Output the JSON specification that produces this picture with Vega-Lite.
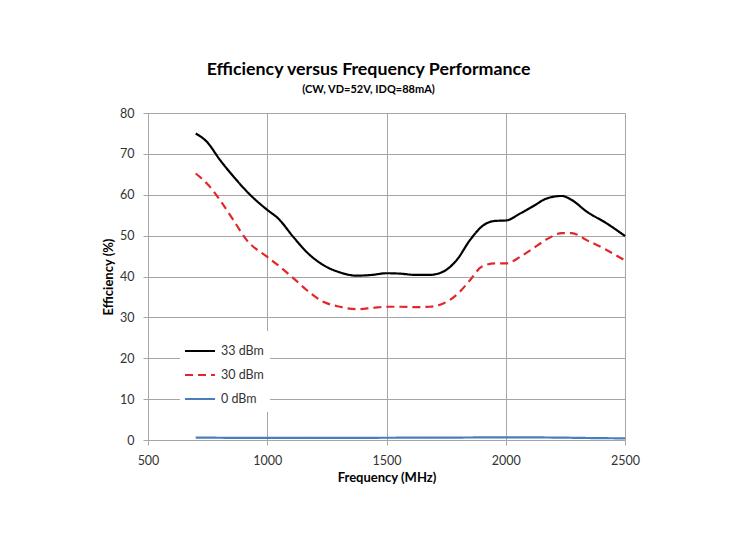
{
  "$schema": "https://vega.github.io/schema/vega-lite/v6.json",
  "width": 477,
  "height": 327,
  "autosize": {"type": "none"},
  "padding": {"left": 148, "top": 113, "right": 105, "bottom": 99},
  "background": "white",
  "title": {
    "text": "Efficiency versus Frequency Performance",
    "subtitle": "(CW, VD=52V, IDQ=88mA)",
    "anchor": "middle",
    "dx": -18,
    "offset": 12,
    "font": "Lato",
    "fontSize": 17.8,
    "fontWeight": "bold",
    "color": "#000000",
    "subtitleFont": "Lato",
    "subtitleFontSize": 11,
    "subtitleFontWeight": "bold",
    "subtitleColor": "#000000",
    "subtitlePadding": 5
  },
  "data": {
    "values": [
      {"f": 700, "e": 75.0, "s": "33 dBm"},
      {"f": 746, "e": 73.0, "s": "33 dBm"},
      {"f": 802, "e": 68.5, "s": "33 dBm"},
      {"f": 865, "e": 64.0, "s": "33 dBm"},
      {"f": 928, "e": 60.0, "s": "33 dBm"},
      {"f": 1000, "e": 56.3, "s": "33 dBm"},
      {"f": 1046, "e": 54.2, "s": "33 dBm"},
      {"f": 1109, "e": 49.7, "s": "33 dBm"},
      {"f": 1165, "e": 46.0, "s": "33 dBm"},
      {"f": 1235, "e": 42.8, "s": "33 dBm"},
      {"f": 1305, "e": 41.0, "s": "33 dBm"},
      {"f": 1375, "e": 40.2, "s": "33 dBm"},
      {"f": 1440, "e": 40.4, "s": "33 dBm"},
      {"f": 1500, "e": 40.8, "s": "33 dBm"},
      {"f": 1557, "e": 40.7, "s": "33 dBm"},
      {"f": 1620, "e": 40.4, "s": "33 dBm"},
      {"f": 1682, "e": 40.4, "s": "33 dBm"},
      {"f": 1738, "e": 41.2, "s": "33 dBm"},
      {"f": 1794, "e": 44.0, "s": "33 dBm"},
      {"f": 1850, "e": 48.9, "s": "33 dBm"},
      {"f": 1899, "e": 52.2, "s": "33 dBm"},
      {"f": 1955, "e": 53.6, "s": "33 dBm"},
      {"f": 2001, "e": 53.7, "s": "33 dBm"},
      {"f": 2060, "e": 55.4, "s": "33 dBm"},
      {"f": 2115, "e": 57.2, "s": "33 dBm"},
      {"f": 2172, "e": 59.1, "s": "33 dBm"},
      {"f": 2235, "e": 59.7, "s": "33 dBm"},
      {"f": 2277, "e": 58.7, "s": "33 dBm"},
      {"f": 2339, "e": 55.9, "s": "33 dBm"},
      {"f": 2423, "e": 53.0, "s": "33 dBm"},
      {"f": 2500, "e": 49.9, "s": "33 dBm"},
      {"f": 700, "e": 65.2, "s": "30 dBm"},
      {"f": 753, "e": 62.4, "s": "30 dBm"},
      {"f": 802, "e": 58.7, "s": "30 dBm"},
      {"f": 858, "e": 53.8, "s": "30 dBm"},
      {"f": 914, "e": 48.9, "s": "30 dBm"},
      {"f": 1000, "e": 44.8, "s": "30 dBm"},
      {"f": 1053, "e": 42.4, "s": "30 dBm"},
      {"f": 1109, "e": 39.6, "s": "30 dBm"},
      {"f": 1165, "e": 36.7, "s": "30 dBm"},
      {"f": 1235, "e": 33.8, "s": "30 dBm"},
      {"f": 1305, "e": 32.6, "s": "30 dBm"},
      {"f": 1375, "e": 32.0, "s": "30 dBm"},
      {"f": 1440, "e": 32.3, "s": "30 dBm"},
      {"f": 1500, "e": 32.6, "s": "30 dBm"},
      {"f": 1557, "e": 32.6, "s": "30 dBm"},
      {"f": 1620, "e": 32.5, "s": "30 dBm"},
      {"f": 1682, "e": 32.6, "s": "30 dBm"},
      {"f": 1738, "e": 33.4, "s": "30 dBm"},
      {"f": 1801, "e": 35.9, "s": "30 dBm"},
      {"f": 1850, "e": 39.1, "s": "30 dBm"},
      {"f": 1899, "e": 42.4, "s": "30 dBm"},
      {"f": 1955, "e": 43.2, "s": "30 dBm"},
      {"f": 2001, "e": 43.2, "s": "30 dBm"},
      {"f": 2060, "e": 44.8, "s": "30 dBm"},
      {"f": 2115, "e": 46.9, "s": "30 dBm"},
      {"f": 2172, "e": 49.1, "s": "30 dBm"},
      {"f": 2235, "e": 50.6, "s": "30 dBm"},
      {"f": 2277, "e": 50.6, "s": "30 dBm"},
      {"f": 2339, "e": 48.9, "s": "30 dBm"},
      {"f": 2423, "e": 46.5, "s": "30 dBm"},
      {"f": 2500, "e": 43.9, "s": "30 dBm"},
      {"f": 700, "e": 0.6, "s": "0 dBm"},
      {"f": 800, "e": 0.55, "s": "0 dBm"},
      {"f": 1000, "e": 0.5, "s": "0 dBm"},
      {"f": 1200, "e": 0.5, "s": "0 dBm"},
      {"f": 1500, "e": 0.55, "s": "0 dBm"},
      {"f": 1800, "e": 0.6, "s": "0 dBm"},
      {"f": 2000, "e": 0.65, "s": "0 dBm"},
      {"f": 2200, "e": 0.6, "s": "0 dBm"},
      {"f": 2400, "e": 0.45, "s": "0 dBm"},
      {"f": 2500, "e": 0.4, "s": "0 dBm"}
    ]
  },
  "mark": {"type": "line", "interpolate": "monotone", "strokeWidth": 2.2},
  "encoding": {
    "x": {
      "field": "f",
      "type": "quantitative",
      "scale": {"domain": [500, 2500], "nice": false, "zero": false},
      "axis": {
        "title": "Frequency (MHz)",
        "values": [500, 1000, 1500, 2000, 2500],
        "format": "d",
        "labelFlush": false,
        "titlePadding": 5
      }
    },
    "y": {
      "field": "e",
      "type": "quantitative",
      "scale": {"domain": [0, 80], "nice": false},
      "axis": {
        "title": "Efficiency (%)",
        "values": [0, 10, 20, 30, 40, 50, 60, 70, 80],
        "labelFlush": false,
        "titlePadding": 4
      }
    },
    "color": {
      "field": "s",
      "type": "nominal",
      "scale": {"domain": ["33 dBm", "30 dBm", "0 dBm"], "range": ["#000000", "#e3262b", "#4a7ebb"]},
      "legend": {
        "title": null,
        "orient": "none",
        "legendX": 32,
        "legendY": 218,
        "symbolType": "M-1.2,0H1.2",
        "symbolSize": 625,
        "symbolStrokeWidth": 2.2,
        "symbolFillColor": "transparent",
        "labelOffset": 7,
        "labelFont": "Lato",
        "labelFontSize": 12.5,
        "labelColor": "#333333",
        "rowPadding": 3,
        "fillColor": "white",
        "padding": 6
      }
    },
    "strokeDash": {
      "field": "s",
      "type": "nominal",
      "scale": {"domain": ["33 dBm", "30 dBm", "0 dBm"], "range": [[1, 0], [8, 5], [1, 0]]},
      "legend": null
    }
  },
  "config": {
    "font": "Lato",
    "view": {"stroke": null},
    "axis": {
      "grid": true,
      "gridColor": "#a6a6a6",
      "gridWidth": 1,
      "gridOpacity": 1,
      "domainColor": "#a6a6a6",
      "tickColor": "#a6a6a6",
      "tickSize": 5,
      "labelFont": "Lato",
      "labelFontSize": 12.5,
      "labelColor": "#333333",
      "labelPadding": 9,
      "titleFont": "Lato",
      "titleFontSize": 13,
      "titleFontWeight": "bold",
      "titleColor": "#000000"
    }
  }
}
